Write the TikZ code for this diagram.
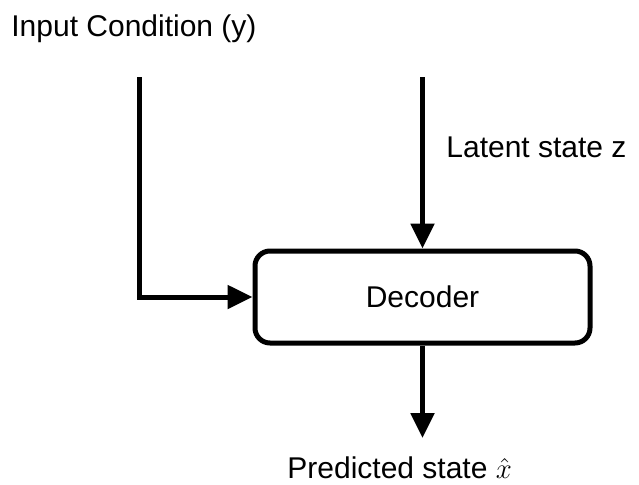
\documentclass[tikz,border=0pt]{standalone}
\usepackage{fontspec}
\setmainfont{Liberation Sans}
\usepackage{amsmath}
\usetikzlibrary{%
	arrows.meta,%
	calc,%
	shapes
}

\begin{document}
\begin{tikzpicture}[x=0.5pt,y=-0.5pt,>={Triangle[length=12.5pt,width=11.5pt]},
		font=\fontsize{15}{18}\selectfont,
		flow/.style={line width=2.5pt,->},
		label/.style={anchor=base west,inner sep=0pt}]
				\useasboundingbox (0,0) rectangle (639,484);
				
				% Decoder block
				\node[draw,line width=2.5pt,rounded corners=7.5pt,
					minimum width=167.5pt,minimum height=46pt] (dec) at (422.5,297) {Decoder};
				
				% Labels
				\node[label] (cond) at (11,36) {Input Condition (y)};
				\node[label] (lat) at (446,157) {Latent state z};
				\node[label] (pred) at (287,478) {Predicted state $\hat{x}$};
				
				% Free ends of the arrows
				\coordinate (cin) at (139,77);
				\coordinate (zin) at (422.5,77);
				\coordinate (xout) at (422.5,438);
				
				% Arrows
				\draw[flow] (cin) |- (dec.west);
				\draw[flow] (zin) -- (dec.north);
				\draw[flow] (dec.south) -- (xout);
			\end{tikzpicture}
\end{document}
